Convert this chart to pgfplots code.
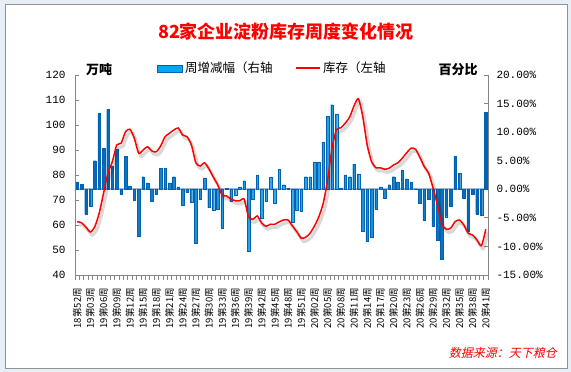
\documentclass[border=0pt]{standalone}
\usepackage{pgfplots}
\pgfplotsset{compat=1.18}
\usepackage{pgfplotstable}
\usepackage{fontspec}
\setmainfont{Liberation Sans}
\newfontfamily\cjk{Noto Sans CJK SC}
\newfontfamily\cjkit[FakeSlant=0.22]{Noto Sans CJK SC}
\newfontfamily\mono{Liberation Mono}
\definecolor{barDark}{HTML}{0062B0}
\definecolor{barLight}{HTML}{33AEF0}
\definecolor{swatch}{HTML}{00A8F0}
\definecolor{axisgray}{HTML}{868686}
\definecolor{zeroline}{HTML}{A3B6D6}
\definecolor{outerbg}{HTML}{E8EEF6}

\pgfplotstableread{
x chg
0 1.3
1 0.9
2 -4.4
3 -3.0
4 5.0
5 13.3
6 7.2
7 14.0
8 4.1
9 7.0
10 -0.8
11 5.8
12 0.6
13 -1.9
14 -8.2
15 2.2
16 1.1
17 -2.1
18 -0.9
19 3.7
20 3.7
21 1.1
22 2.2
23 0.4
24 -2.8
25 -0.5
26 -2.2
27 -9.5
28 -1.8
29 2.0
30 -3.2
31 -3.7
32 -3.5
33 -6.8
34 0.2
35 -2.1
36 -1.1
37 0.4
38 1.5
39 -10.9
40 -1.8
41 2.5
42 -5.0
43 -2.1
44 2.1
45 -2.5
46 3.5
47 0.8
48 0.2
49 -5.8
50 -3.7
51 -3.9
52 2.2
53 2.2
54 4.8
55 4.8
56 8.3
57 12.8
58 14.8
59 13.2
60 0.2
61 2.5
62 2.2
63 4.4
64 2.7
65 -7.4
66 -9.1
67 -8.4
68 -3.5
69 0.4
70 -1.5
71 0.8
72 2.2
73 1.3
74 3.4
75 1.8
76 1.3
77 0.1
78 -2.5
79 -5.4
80 -1.8
81 -6.5
82 -8.9
83 -12.3
84 -4.8
85 -3.0
86 5.8
87 2.8
88 -1.6
89 -7.4
90 -0.9
91 -4.4
92 -4.6
93 13.5
}\chgdata

\pgfplotstableread{
x stock
0 61.3
1 60.9
2 59.1
3 57.2
4 59.3
5 64.7
6 72.7
7 80.7
8 85.3
9 92.0
10 92.7
11 97.3
12 98.3
13 94.7
14 88.7
15 90.0
16 91.3
17 89.6
18 89.3
19 91.6
20 95.3
21 96.7
22 98.0
23 98.8
24 96.0
25 95.3
26 92.0
27 84.9
28 83.6
29 84.9
30 82.4
31 79.1
32 76.0
33 72.0
34 71.6
35 70.4
36 69.7
37 69.7
38 70.3
39 63.3
40 62.3
41 63.6
42 60.7
43 59.5
44 60.3
45 60.3
46 61.3
47 62.0
48 62.0
49 59.6
50 57.3
51 54.7
52 55.1
53 56.7
54 59.6
55 63.3
56 68.7
57 78.0
58 90.7
59 98.0
60 98.9
61 100.7
62 103.1
63 107.6
64 110.5
65 103.3
66 92.0
67 85.3
68 82.9
69 82.9
70 82.3
71 82.7
72 84.0
73 84.9
74 86.7
75 88.9
76 90.7
77 90.3
78 87.1
79 83.3
80 80.7
81 74.7
82 68.0
83 60.4
84 58.3
85 58.7
86 61.3
87 62.0
88 60.0
89 56.7
90 56.0
91 54.0
92 51.7
93 58.3
}\stockdata

\begin{document}
\begin{tikzpicture}
% background and frame
\fill[outerbg] (0pt,0pt) rectangle (571pt,372pt);
\filldraw[fill=white, draw=axisgray!90, line width=0.8pt] (5pt,4pt) rectangle (567pt,368pt);

% title
\node[text=red, font=\cjk\bfseries\fontsize{18}{20}\selectfont] at (286pt,340pt) {82家企业淀粉库存周度变化情况};
% unit labels
\node[font=\cjk\bfseries\fontsize{13}{14}\selectfont] at (99pt,302pt) {万吨};
\node[font=\cjk\bfseries\fontsize{13}{14}\selectfont] at (458pt,302pt) {百分比};
% legend
\fill[swatch] (157pt,300pt) rectangle (182pt,307pt);
\draw[barDark, line width=0.5pt] (157pt,300pt) rectangle (182pt,307pt);
\node[anchor=west, inner sep=0pt, font=\cjk\fontsize{12.5}{13}\selectfont] at (185pt,304pt) {周增减幅（右轴};
\draw[red, line width=2.2pt] (296pt,304pt) -- (320pt,304pt);
\node[anchor=west, inner sep=0pt, font=\cjk\fontsize{12.5}{13}\selectfont] at (323pt,304pt) {库存（左轴};
% source
\node[anchor=east, inner sep=0pt, text=red, font=\cjkit\fontsize{12}{13}\selectfont] at (557pt,19pt) {数据来源：天下粮仓};

% bars on right axis
\begin{axis}[
  at={(75pt,97pt)}, anchor=south west,
  width=413pt, height=200pt, scale only axis,
  xmin=-0.5, xmax=93.5,
  ymin=-15, ymax=20,
  axis y line*=right, axis x line*=bottom,
  axis line style={draw=axisgray, line width=0.9pt},
  ytick={-15,-10,-5,0,5,10,15,20},
  yticklabels={-15.00\%,-10.00\%,-5.00\%,0.00\%,5.00\%,10.00\%,15.00\%,20.00\%},
  yticklabel style={font=\mono\fontsize{11}{12}\selectfont, xshift=5pt},
  ytick align=inside, major tick length=4pt,
  ytick style={draw=axisgray, line width=0.8pt},
  xtick={0,3,...,93},
  xticklabels={18第52周,19第03周,19第06周,19第09周,19第12周,19第15周,19第18周,19第21周,19第24周,19第27周,19第30周,19第33周,19第36周,19第39周,19第42周,19第45周,19第48周,19第51周,20第02周,20第05周,20第08周,20第11周,20第14周,20第17周,20第20周,20第23周,20第26周,20第29周,20第32周,20第35周,20第38周,20第41周},
  xticklabel style={rotate=90, anchor=east, inner sep=0pt, font=\cjk\fontsize{9.5}{10}\selectfont},
  xticklabel shift=9pt,
  minor xtick={-0.5,0.5,...,93.5},
  major x tick style={draw=none},
  minor x tick style={draw=axisgray, line width=0.6pt},
  xtick align=outside, minor tick length=5pt,
  clip=false,
]
\draw[zeroline, line width=1.6pt] (axis cs:-0.5,0) -- (axis cs:93.5,0);
\addplot[ybar, bar width=2.6pt, draw=barDark, line width=0.3pt,
  left color=barDark, right color=barDark, middle color=barLight]
  table[x=x, y=chg] {\chgdata};
\end{axis}

% line on left axis
\begin{axis}[
  at={(75pt,97pt)}, anchor=south west,
  width=413pt, height=200pt, scale only axis,
  xmin=-0.5, xmax=93.5,
  ymin=40, ymax=120,
  axis y line*=left, axis x line=none,
  axis line style={draw=axisgray, line width=0.9pt},
  ytick={40,50,...,120},
  yticklabels={40,50,60,70,80,90,100,110,120},
  yticklabel style={font=\mono\fontsize{11}{12}\selectfont, xshift=-6pt},
  ytick align=inside, major tick length=4pt,
  ytick style={draw=axisgray, line width=0.8pt},
]
\addplot[draw=black, opacity=0.15, line width=3.2pt, smooth, tension=0.4, xshift=2pt, yshift=-3pt]
  table[x=x, y=stock] {\stockdata};
\addplot[draw=red, line width=1.5pt, smooth, tension=0.4]
  table[x=x, y=stock] {\stockdata};
\end{axis}
\end{tikzpicture}
\end{document}
